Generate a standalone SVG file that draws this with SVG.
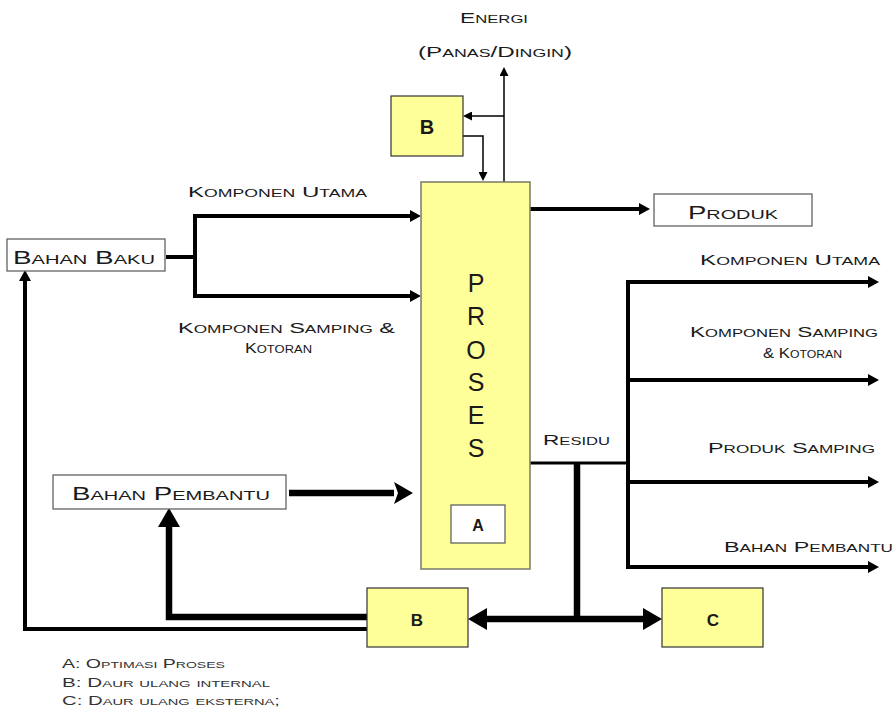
<svg xmlns="http://www.w3.org/2000/svg" width="896" height="722" viewBox="0 0 896 722">
<style>
text{font-family:"Liberation Sans","DejaVu Sans",sans-serif;font-variant:small-caps;fill:#1a1a1a}
.lbl{font-size:15px}
.big{font-size:18px}
.leg{font-size:12.5px;fill:#333}
.let{font-size:25px;text-anchor:middle;font-variant:normal}
.bold{font-weight:bold;text-anchor:middle;font-variant:normal}
.yel{fill:#ffff99;stroke:#333;stroke-width:1.2}
.proc{fill:#ffff99;stroke:#808070;stroke-width:1.6}
.wht{fill:#fff;stroke:#555;stroke-width:1.2}
.c1{fill:none;stroke:#000;stroke-width:1.5}
.c4{fill:none;stroke:#000;stroke-width:4}
.c3{fill:none;stroke:#000;stroke-width:3}
.c6{fill:none;stroke:#000;stroke-width:6.5}
</style>
<defs>
<marker id="hs" markerUnits="userSpaceOnUse" markerWidth="9" markerHeight="9" refX="0" refY="4.5" orient="auto"><path d="M0,0 L9,4.5 L0,9 z" fill="#000"/></marker>
<marker id="hm" markerUnits="userSpaceOnUse" markerWidth="11" markerHeight="12" refX="0" refY="6" orient="auto"><path d="M0,0 L11,6 L0,12 z" fill="#000"/></marker>
<marker id="hl" markerUnits="userSpaceOnUse" markerWidth="19" markerHeight="22" refX="0" refY="11" orient="auto"><path d="M0,0 L19,11 L0,22 L4,11 z" fill="#000"/></marker>
<marker id="hl2" markerUnits="userSpaceOnUse" markerWidth="19" markerHeight="22" refX="0" refY="11" orient="auto"><path d="M0,0 L19,11 L0,22 z" fill="#000"/></marker>
</defs>

<g id="connectors">
<path class="c1" d="M504,182 V76" marker-end="url(#hs)"/>
<path class="c1" d="M504,116 H472" marker-end="url(#hs)"/>
<path class="c1" d="M463,136 H483 V172" marker-end="url(#hs)"/>
<path class="c4" d="M166,257 H195"/>
<path class="c4" d="M195,257 V216 H410" marker-end="url(#hm)"/>
<path class="c4" d="M195,257 V296 H410" marker-end="url(#hm)"/>
<path class="c4" d="M530,209 H639" marker-end="url(#hm)"/>
<path class="c3" d="M530,463 H628"/>
<path class="c4" d="M628,280 V569"/>
<path class="c4" d="M626,282 H868" marker-end="url(#hm)"/>
<path class="c4" d="M628,380 H868" marker-end="url(#hm)"/>
<path class="c4" d="M628,482 H868" marker-end="url(#hm)"/>
<path class="c4" d="M626,567 H868" marker-end="url(#hm)"/>
<path class="c6" d="M577,462 V619"/>
<path class="c6" d="M577,619 H643" marker-end="url(#hl2)"/>
<path class="c6" d="M577,619 H487" marker-end="url(#hl2)"/>
<path class="c6" d="M289,493 H394" marker-end="url(#hl)"/>
<path class="c6" d="M367,617 H169 V527" marker-end="url(#hl2)"/>
<path class="c4" d="M367,629 H25 V281" marker-end="url(#hm)"/>
</g>

<g id="proses">
<rect class="proc" x="421" y="182" width="109" height="387"/>
<text class="let" x="476" y="292">P</text>
<text class="let" x="476" y="325">R</text>
<text class="let" x="476" y="359">O</text>
<text class="let" x="476" y="391">S</text>
<text class="let" x="476" y="424">E</text>
<text class="let" x="476" y="457">S</text>
</g>
<g id="a-box">
<rect class="wht" x="451" y="505" width="54" height="38"/>
<text class="bold" x="478" y="531" font-size="16">A</text>
</g>
<g id="b-top">
<rect class="yel" x="391" y="96" width="72" height="60"/>
<text class="bold" x="427" y="134" font-size="20">B</text>
</g>
<g id="b-bottom">
<rect class="yel" x="367" y="588" width="101" height="59"/>
<text class="bold" x="417" y="626" font-size="17">B</text>
</g>
<g id="c-box">
<rect class="yel" x="662" y="588" width="101" height="59"/>
<text class="bold" x="713" y="626" font-size="17">C</text>
</g>
<g id="bahan-baku">
<rect class="wht" x="7" y="239" width="158" height="32"/>
<text class="big" x="13" y="264" textLength="142" lengthAdjust="spacingAndGlyphs">Bahan Baku</text>
</g>
<g id="bahan-pembantu">
<rect class="wht" x="53" y="475" width="233" height="34"/>
<text class="big" x="72" y="500" textLength="198" lengthAdjust="spacingAndGlyphs">Bahan Pembantu</text>
</g>
<g id="produk">
<rect class="wht" x="654" y="194" width="158" height="32"/>
<text class="big" x="688" y="219" textLength="90" lengthAdjust="spacingAndGlyphs">Produk</text>
</g>

<g id="labels">
<text class="lbl" x="460" y="23" textLength="68" lengthAdjust="spacingAndGlyphs">Energi</text>
<text class="lbl" x="418" y="57" textLength="154" lengthAdjust="spacingAndGlyphs">(Panas/Dingin)</text>
<text class="lbl" x="188" y="197" textLength="179" lengthAdjust="spacingAndGlyphs">Komponen Utama</text>
<text class="lbl" x="178" y="333" textLength="217" lengthAdjust="spacingAndGlyphs">Komponen Samping &amp;</text>
<text class="lbl" x="245" y="353" textLength="67" lengthAdjust="spacingAndGlyphs">Kotoran</text>
<text class="lbl" x="700" y="265" textLength="180" lengthAdjust="spacingAndGlyphs">Komponen Utama</text>
<text class="lbl" x="690" y="337" textLength="188" lengthAdjust="spacingAndGlyphs">Komponen Samping</text>
<text class="lbl" x="763" y="358" textLength="79" lengthAdjust="spacingAndGlyphs">&amp; Kotoran</text>
<text class="lbl" x="543" y="445" textLength="67" lengthAdjust="spacingAndGlyphs">Residu</text>
<text class="lbl" x="708" y="453" textLength="167" lengthAdjust="spacingAndGlyphs">Produk Samping</text>
<text class="lbl" x="724" y="552" textLength="169" lengthAdjust="spacingAndGlyphs">Bahan Pembantu</text>
</g>
<g id="legend">
<text class="leg" x="62" y="668" textLength="163" lengthAdjust="spacingAndGlyphs">A: Optimasi Proses</text>
<text class="leg" x="62" y="687" textLength="208" lengthAdjust="spacingAndGlyphs">B: Daur ulang internal</text>
<text class="leg" x="62" y="705" textLength="218" lengthAdjust="spacingAndGlyphs">C: Daur ulang eksterna;</text>
</g>
</svg>
